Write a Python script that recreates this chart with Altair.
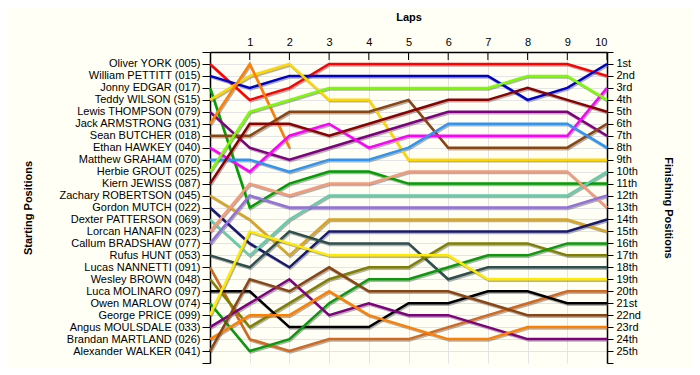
import altair as alt
import pandas as pd

laps = list(range(11))

drivers = [
    "Oliver YORK (005)", "William PETTITT (015)", "Jonny EDGAR (017)",
    "Teddy WILSON (S15)", "Lewis THOMPSON (079)", "Jack ARMSTRONG (031)",
    "Sean BUTCHER (018)", "Ethan HAWKEY (040)", "Matthew GRAHAM (070)",
    "Herbie GROUT (025)", "Kiern JEWISS (087)", "Zachary ROBERTSON (045)",
    "Gordon MUTCH (022)", "Dexter PATTERSON (069)", "Lorcan HANAFIN (023)",
    "Callum BRADSHAW (077)", "Rufus HUNT (053)", "Lucas NANNETTI (091)",
    "Wesley BROWN (048)", "Luca MOLINARO (097)", "Owen MARLOW (074)",
    "George PRICE (099)", "Angus MOULSDALE (033)", "Brandan MARTLAND (026)",
    "Alexander WALKER (041)",
]

finish_labels = [
    "1st", "2nd", "3rd", "4th", "5th", "6th", "7th", "8th", "9th", "10th",
    "11th", "12th", "13th", "14th", "15th", "16th", "17th", "18th", "19th",
    "20th", "21st", "22nd", "23rd", "24th", "25th",
]

line_colors = [
    "#FF0000", "#0000CC", "#00A000", "#FFD700", "#800080", "#FF8000",
    "#8B4513", "#FF00FF", "#2E95F5", "#7CFC00", "#8B0000", "#DAA520",
    "#191970", "#66CDAA", "#F59B7C", "#9370DB", "#2F4F4F", "#D2691E",
    "#808000", "#000000", "#0A9A0A", "#FFEA00", "#800080", "#FF8000",
    "#8B4513",
]

# positions per lap (lap 0 = grid position)
york = [1, 4, 3, 1, 1, 1, 1, 1, 1, 1, 2]
pettitt = [2, 3, 2, 2, 2, 2, 2, 2, 4, 3, 1]
edgar = [3, 13, 11, 10, 10, 11, 11, 11, 11, 11, 11]
wilson = [4, 2, 1, 4, 4, 9, 9, 9, 9, 9, 9]
thompson = [5, 8, 9, 8, 7, 6, 5, 5, 5, 5, 7]
armstrong = [6, 1, 8]
butcher = [7, 7, 5, 5, 5, 4, 8, 8, 8, 8, 6]
hawkey = [8, 10, 7, 6, 8, 7, 7, 7, 7, 7, 3]
graham = [9, 9, 10, 9, 9, 8, 6, 6, 6, 6, 8]
grout = [10, 5, 4, 3, 3, 3, 3, 3, 2, 2, 4]
jewiss = [11, 6, 6, 7, 6, 5, 4, 4, 3, 4, 5]
robertson = [12, 14, 17, 14, 14, 14, 14, 14, 14, 14, 15]
mutch = [13, 16, 18, 15, 15, 15, 15, 15, 15, 15, 14]
patterson = [14, 17, 14, 12, 12, 12, 12, 12, 12, 12, 10]
hanafin = [15, 11, 12, 11, 11, 10, 10, 10, 10, 10, 13]
bradshaw = [16, 12, 13, 13, 13, 13, 13, 13, 13, 13, 12]
hunt = [17, 18, 15, 16, 16, 16, 19, 18, 18, 18, 18]
nannetti = [18, 24, 25, 24, 24, 24, 23, 22, 21, 20, 20]
brown = [19, 23, 21, 19, 18, 18, 16, 16, 16, 17, 17]
molinaro = [20, 20, 23, 23, 23, 21, 21, 20, 20, 21, 21]
marlow = [21, 25, 24, 21, 19, 19, 18, 17, 17, 16, 16]
price = [22, 15, 16, 17, 17, 17, 17, 19, 19, 19, 19]
moulsdale = [23, 21, 19, 22, 21, 22, 22, 23, 24, 24, 24]
martland = [24, 22, 22, 20, 22, 23, 24, 24, 23, 23, 23]
walker = [25, 19, 20, 18, 20, 20, 20, 21, 22, 22, 22]

positions = [
    york, pettitt, edgar, wilson, thompson, armstrong, butcher, hawkey,
    graham, grout, jewiss, robertson, mutch, patterson, hanafin, bradshaw,
    hunt, nannetti, brown, molinaro, marlow, price, moulsdale, martland,
    walker,
]

rows = []
for idx, (name, pos) in enumerate(zip(drivers, positions)):
    for lap, p in zip(laps, pos):
        rows.append({"driver": name, "lap": lap, "pos": p, "idx": idx})
df = pd.DataFrame(rows)
tick_df = pd.DataFrame({"lap": laps[1:]})

W, H = 397, 311
FONT = "Liberation Sans"
BG = "#FFFFF5"

xscale = alt.Scale(domain=[0, 10], nice=False, zero=False)
yscale = alt.Scale(domain=[0, 26], reverse=True, nice=False, zero=False)

name_arr = "[" + ",".join("'" + n + "'" for n in drivers) + "]"
fin_arr = "[" + ",".join("'" + n + "'" for n in finish_labels) + "]"

x_axis = alt.Axis(
    orient="top", values=laps, labelExpr="datum.value == 0 ? '' : datum.label",
    title="Laps", ticks=False, labelPadding=5, labelFontSize=11, labelFont=FONT,
    labelColor="black", labelAngle=0, titleFont=FONT, titleFontSize=11,
    titleFontWeight="bold", titleColor="black", titleY=-35, titleBaseline="middle",
    domainColor="black", domainWidth=1.5, grid=True, gridColor="#E4E4E4",
)

left_axis = alt.Axis(
    orient="left", values=list(range(27)),
    labelExpr="datum.value >= 1 && datum.value <= 25 ? " + name_arr + "[datum.value - 1] : ''",
    title="Starting Positions", titleX=-182, titleY=H / 2, titleAngle=270,
    titleAlign="center", titleBaseline="middle", titleFont=FONT, titleFontSize=11,
    titleFontWeight="bold", titleColor="black",
    labelFont=FONT, labelFontSize=11, labelColor="black", labelPadding=2,
    tickSize=8, tickColor="black", domainColor="black", domainWidth=1.5,
    grid=True, gridColor="#E4E4E4",
    gridOpacity={"condition": {"test": "datum.value == 26", "value": 0}, "value": 1},
)

right_axis = alt.Axis(
    orient="right", values=list(range(27)),
    labelExpr="datum.value >= 1 && datum.value <= 25 ? " + fin_arr + "[datum.value - 1] : ''",
    title="Finishing Positions", titleX=60, titleY=H / 2, titleAngle=90,
    titleAlign="center", titleBaseline="middle", titleFont=FONT, titleFontSize=11,
    titleFontWeight="bold", titleColor="black",
    labelFont=FONT, labelFontSize=11, labelColor="black", labelPadding=3,
    tickSize=6, tickColor="black", domainColor="black", domainWidth=1.5,
    grid=False,
)

base = alt.Chart(df)

shadow = base.mark_line(
    color="#555555", opacity=0.45, strokeWidth=2.5, xOffset=1, yOffset=1.5
).encode(
    x=alt.X("lap:Q", scale=xscale, axis=x_axis),
    y=alt.Y("pos:Q", scale=yscale, axis=left_axis),
    detail="driver:N",
)

lines = base.mark_line(strokeWidth=2.5).encode(
    x=alt.X("lap:Q", scale=xscale, axis=x_axis),
    y=alt.Y("pos:Q", scale=yscale, axis=left_axis),
    color=alt.Color("driver:N", scale=alt.Scale(domain=drivers, range=line_colors), legend=None),
    order=alt.Order("lap:Q"),
)

ticks = alt.Chart(tick_df).mark_rule(color="black", strokeWidth=1).encode(
    x=alt.X("lap:Q", scale=xscale, axis=x_axis),
    y=alt.value(0),
    y2=alt.value(8),
)

left_layer = alt.layer(shadow, lines, ticks)

right_layer = base.mark_line(opacity=0).encode(
    x=alt.X("lap:Q", scale=xscale, axis=x_axis),
    y=alt.Y("pos:Q", scale=yscale, axis=right_axis),
    detail="driver:N",
)

chart = alt.layer(left_layer, right_layer).resolve_scale(
    y="independent"
).properties(
    width=W, height=H,
    padding={"left": 202, "top": 44, "right": 85, "bottom": 4},
    autosize="none",
    background=BG,
).configure_view(strokeWidth=0)

chart.save("out.html", embed_options={"renderer": "svg", "actions": False})
